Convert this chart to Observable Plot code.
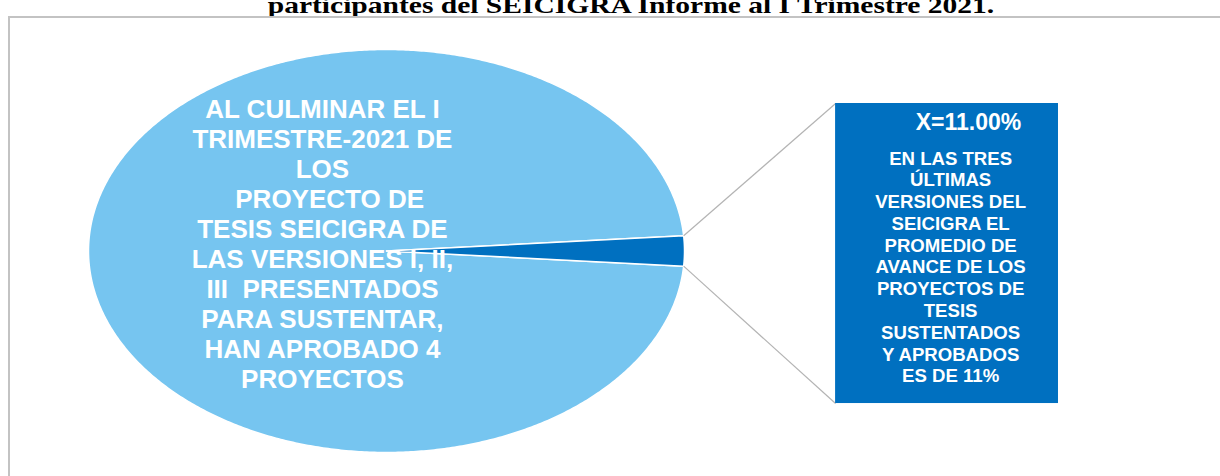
<!DOCTYPE html>
<html>
<head>
<meta charset="utf-8">
<script src="https://cdn.jsdelivr.net/npm/d3@7"></script>
<script src="https://cdn.jsdelivr.net/npm/@observablehq/plot@0.6"></script>
<style>
  html, body { margin: 0; padding: 0; background: #fff; }
  body { width: 1220px; height: 476px; overflow: hidden; position: relative; }
  #title { position: absolute; left: 0; top: -6px; width: 1262px; text-align: center;
           font: bold 24px "Liberation Serif", "Times New Roman", serif; line-height: 23px;
           white-space: nowrap; color: #000; transform: scaleX(1.23); transform-origin: 631px 50%; }
  #chart { position: absolute; left: 0; top: 17px; }
  #frame { position: absolute; left: 8px; top: 16px; width: 1400px; height: 700px;
           border-left: 2px solid #c3c3c3; border-top: 2px solid #c3c3c3; pointer-events: none; }
</style>
</head>
<body>
<div id="title"></div>
<div id="chart"></div>
<div id="frame"></div>
<script>
// ---------- data ----------
const titleText = "participantes del SEICIGRA Informe al I Trimestre 2021.";
const sliceNames = ["Proyectos presentados para sustentar", "Promedio de avance (X)"];
const sliceValues = [97.6, 2.4];
const barNames = ["X=11.00%"];
const barValues = [11.0];
const mainLabelLines = [
  "AL CULMINAR EL I",
  "TRIMESTRE-2021 DE",
  "LOS",
  "\u00a0\u00a0PROYECTO DE",
  "TESIS SEICIGRA DE",
  "LAS VERSIONES I, II,",
  "III\u00a0\u00a0PRESENTADOS",
  "PARA SUSTENTAR,",
  "HAN APROBADO 4",
  "PROYECTOS"
];
const boxTitle = "X=11.00%";
const boxLines = [
  "EN LAS TRES",
  "ÚLTIMAS",
  "VERSIONES DEL",
  "SEICIGRA EL",
  "PROMEDIO DE",
  "AVANCE DE LOS",
  "PROYECTOS DE",
  "TESIS",
  "SUSTENTADOS",
  "Y APROBADOS",
  "ES DE 11%"
];

// ---------- layout (in chart units; pie radius = 1) ----------
const barX = [1.507, 2.255];
const barY = [-0.757, 0.732];
const mainLabelPos = [-0.215, 0.04];
const boxTitlePos = [1.953, 0.638];
const boxBodyPos = [1.893, -0.077];

const colorLight = "#76C5F0";
const colorDark = "#0070C0";

document.getElementById("title").textContent = titleText;

// pie geometry: small slice centred at 3 o'clock
const total = d3.sum(sliceValues);
const half = Math.PI * sliceValues[1] / total;
const arcs = d3.pie().sort(null)
  .startAngle(Math.PI / 2 + half - 2 * Math.PI)
  .endAngle(Math.PI / 2 + half)(sliceValues);

const piePts = [];
arcs.forEach((s, i) => {
  const n = Math.max(4, Math.ceil((s.endAngle - s.startAngle) / (2 * Math.PI) * 720));
  piePts.push({slice: sliceNames[i], x: 0, y: 0});
  for (let k = 0; k <= n; k++) {
    const a = s.startAngle + (s.endAngle - s.startAngle) * k / n;
    piePts.push({slice: sliceNames[i], x: Math.sin(a), y: Math.cos(a)});
  }
});

// bar of the breakdown
const barTotal = d3.sum(barValues);
let cum = 0;
const barRows = barValues.map((v, i) => {
  const r = {name: barNames[i],
    y1: barY[0] + (barY[1] - barY[0]) * cum / barTotal,
    y2: barY[0] + (barY[1] - barY[0]) * (cum + v) / barTotal};
  cum += v;
  return r;
});

// connector lines from the small slice to the bar
const small = arcs[1];
const links = [
  {x1: Math.sin(small.startAngle), y1: Math.cos(small.startAngle), x2: barX[0], y2: barY[1]},
  {x1: Math.sin(small.endAngle), y1: Math.cos(small.endAngle), x2: barX[0], y2: barY[0]}
];

const font = '"Liberation Sans", Arial, sans-serif';

const chart = Plot.plot({
  width: 1220,
  height: 459,
  margin: 0,
  style: {background: "transparent"},
  x: {domain: [-1, 1], range: [88, 684], axis: null},
  y: {domain: [-1, 1], range: [435, 32], axis: null},
  color: {domain: sliceNames, range: [colorLight, colorDark]},
  marks: [
    Plot.line(piePts, {x: "x", y: "y", z: "slice", fill: "slice", stroke: "white",
      strokeWidth: 1.5, curve: "linear-closed"}),
    Plot.link(links, {x1: "x1", y1: "y1", x2: "x2", y2: "y2", stroke: "#b4b4b4", strokeWidth: 1.2}),
    Plot.rect(barRows, {x1: () => barX[0], x2: () => barX[1], y1: "y1", y2: "y2", fill: colorDark}),
    Plot.text([mainLabelLines.join("\n")], {x: () => mainLabelPos[0], y: () => mainLabelPos[1],
      text: d => d, fill: "white", fontSize: 26, fontWeight: "bold", fontFamily: font,
      lineHeight: 1.154, textAnchor: "middle"}),
    Plot.text([boxTitle], {x: () => boxTitlePos[0], y: () => boxTitlePos[1],
      text: d => d, fill: "white", fontSize: 23, fontWeight: "bold", fontFamily: font,
      textAnchor: "middle"}),
    Plot.text([boxLines.join("\n")], {x: () => boxBodyPos[0], y: () => boxBodyPos[1],
      text: d => d, fill: "white", fontSize: 18.6, fontWeight: "bold", fontFamily: font,
      lineHeight: 1.17, textAnchor: "middle"})
  ]
});
document.getElementById("chart").appendChild(chart);
</script>
</body>
</html>
